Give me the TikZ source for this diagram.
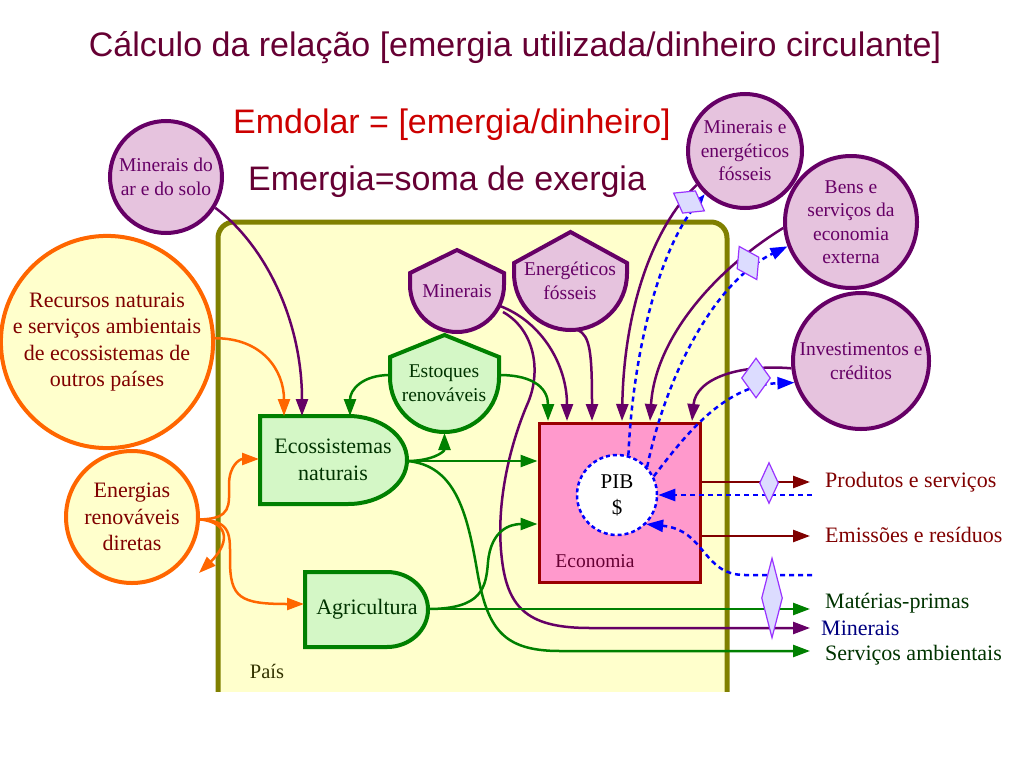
\documentclass[tikz,border=0pt]{standalone}
\usepackage{fontspec}
\setmainfont{Liberation Serif}
\newfontfamily\sansf{Liberation Sans}
\usetikzlibrary{arrows.meta,shapes.geometric}
\definecolor{purp}{HTML}{660066}
\definecolor{maroonc}{HTML}{660033}
\definecolor{redt}{HTML}{CC0000}
\definecolor{pinkfill}{HTML}{E6C3DE}
\definecolor{yel}{HTML}{FFFFCC}
\definecolor{orng}{HTML}{FF6600}
\definecolor{olivb}{HTML}{808000}
\definecolor{grn}{HTML}{008000}
\definecolor{grnfill}{HTML}{D4F7C6}
\definecolor{dgreen}{HTML}{003300}
\definecolor{dred}{HTML}{800000}
\definecolor{ecofill}{HTML}{FF99CC}
\definecolor{ecoline}{HTML}{990000}
\definecolor{blu}{HTML}{0000FF}
\definecolor{vfill}{HTML}{DCDCFF}
\definecolor{vline}{HTML}{9933FF}
\definecolor{navyc}{HTML}{000080}
\definecolor{paist}{HTML}{333300}
\tikzset{
  bigf/.style={font=\fontsize{22}{26.5}\selectfont, align=center},
  smallf/.style={font=\fontsize{19.5}{23.5}\selectfont, align=center},
  headf/.style={font=\sansf\fontsize{34}{40}\selectfont, inner sep=0pt},
  pcirc/.style={circle, draw=purp, line width=4pt, fill=pinkfill, text=purp, inner sep=0pt, smallf},
  ocirc/.style={circle, draw=orng, line width=4pt, fill=yel, text=dred, inner sep=0pt, bigf},
  tankp/.style={draw=purp, fill=pinkfill, line width=4pt, line join=miter},
  tankg/.style={draw=grn, fill=grnfill, line width=4pt, line join=miter},
  tip/.style={-{Triangle[length=17pt,width=12pt]}},
  pline/.style={draw=purp, line width=2.5pt, tip},
  gline/.style={draw=grn, line width=2.5pt, tip},
  oline/.style={draw=orng, line width=2.5pt, tip},
  rline/.style={draw=dred, line width=2.5pt, tip},
  bline/.style={draw=blu, line width=2.5pt, dash pattern=on 5pt off 4pt, -{Triangle[length=17pt,width=12pt]}},
  valve/.style={diamond, draw=vline, fill=vfill, line width=1.2pt, inner sep=0pt},
  outlab/.style={anchor=west, inner sep=0pt, bigf}
}
\begin{document}
\begin{tikzpicture}[x=1pt,y=-1pt]
\useasboundingbox (0,0) rectangle (1024,768);

% headings
\node[headf, text=maroonc] (title) at (515,48) {Cálculo da relação [emergia utilizada/dinheiro circulante]};
\node[headf, text=redt, anchor=west] (emd) at (233,125) {Emdolar = [emergia/dinheiro]};
\node[headf, text=maroonc, anchor=west] (emg) at (248,182) {Emergia=soma de exergia};

% country box
\begin{scope}
\clip (0,0) rectangle (1024,691);
\draw[draw=olivb, line width=5pt, fill=yel, rounded corners=16pt] (218,222) rectangle (727,730);
\end{scope}
\node[font=\fontsize{20.5}{24}\selectfont, text=paist] (pais) at (267,671) {País};

% storage tanks and producers
\draw[tankp] (410,285) -- (410,273) -- (457,250) -- (504,273) -- (504,285) arc[start angle=0,end angle=180,radius=47] -- cycle;
\node[smallf, text=purp] (minh) at (457,291) {Minerais};
\draw[tankp] (514,273.5) -- (514,263) -- (570.5,232) -- (627,263) -- (627,273.5) arc[start angle=0,end angle=180,radius=56.5] -- cycle;
\node[smallf, text=purp] (enf) at (570,281) {Energéticos\\fósseis};
\draw[tankg] (390,377.5) -- (390,357) -- (444.5,335) -- (499,357) -- (499,377.5) arc[start angle=0,end angle=180,radius=54.5] -- cycle;
\node[smallf, text=dgreen] (estq) at (444,383) {Estoques\\renováveis};
\draw[tankg] (348,416) -- (260,416) -- (260,504) -- (348,504) arc[start angle=90,end angle=-90,x radius=59,y radius=44] -- cycle;
\node[bigf, text=dgreen] (ecos) at (333,460) {Ecossistemas\\naturais};
\draw[tankg] (387,572) -- (305,572) -- (305,647) -- (387,647) arc[start angle=90,end angle=-90,x radius=41,y radius=37.5] -- cycle;
\node[bigf, text=dgreen] (agri) at (367,609) {Agricultura};

% economy
\node[draw=ecoline, fill=ecofill, line width=3pt, minimum width=161pt, minimum height=159pt, inner sep=0pt] (eco) at (619.5,502.5) {};
\node[smallf, text=maroonc] (ecolab) at (595,561) {Economia};
\node[circle, draw=blu, line width=2.5pt, dash pattern=on 4pt off 3pt, fill=white, minimum size=80pt, inner sep=0pt, align=center, font=\fontsize{21}{26}\selectfont] (pib) at (617,495) {PIB\\\$};

% sources
\node[pcirc, minimum size=112pt] (mar) at (166,177) {Minerais do\\ar e do solo};
\node[ocirc, minimum size=204pt] (rec) at (107,342) {Recursos naturais\\e serviços ambientais\\de ecossistemas de\\outros países};
\node[ocirc, minimum size=132pt] (ene) at (132,517) {Energias\\renováveis\\diretas};
\node[pcirc, minimum size=114pt] (mef) at (745,151) {Minerais e\\energéticos\\fósseis};
\node[pcirc, minimum size=132pt] (bens) at (851,222) {Bens e\\serviços da\\economia\\externa};
\node[pcirc, minimum size=136pt] (inv) at (861,361) {Investimentos e\\créditos};

% attachment coordinates
\coordinate (ecosR) at (407,461);
\coordinate (agriR) at (428,609);
\coordinate (estqL) at (390,375);
\coordinate (estqR) at (499,375);
\coordinate (estqB) at (444.5,433);
\coordinate (minhA) at (500,306);
\coordinate (minhB) at (503,312);
\coordinate (enfB) at (578,330);
\coordinate (ecosT1) at (284,416);
\coordinate (ecosT2) at (302,416);
\coordinate (ecosT3) at (350,416);
\coordinate (ecosL) at (259,459);
\coordinate (agriL) at (304,604);
\coordinate (outl) at (199,573);
\coordinate (prod) at (810,482);
\coordinate (emis) at (810,536);
\coordinate (matp) at (810,609);
\coordinate (mino) at (810,628);
\coordinate (serv) at (810,651);
\coordinate (inprod) at (812,495);
\coordinate (inres) at (812,575);

% orange flows
\draw[oline] (rec.2) .. controls (262,338) and (284,370) .. (ecosT1);
\draw[oline] (ene.-2) .. controls (232,519) and (229,505) .. (229,485) .. controls (229,465) and (240,459) .. (ecosL);
\draw[oline] (ene.-2) .. controls (232,521) and (230,535) .. (230,560) .. controls (230,598) and (240,604) .. (agriL);
\draw[oline] (ene.-2) .. controls (232,523) and (228,545) .. (outl);

% purple flows
\draw[pline] (mar.-32) .. controls (265,245) and (302,320) .. (ecosT2);
\draw[pline] (minhA) .. controls (542,322) and (567,365) .. (567,421);
\draw[pline] (minhB) .. controls (535,330) and (542,372) .. (527,405) .. controls (510,445) and (495,505) .. (502,560) .. controls (508,610) and (530,628) .. (590,628) -- (mino);
\draw[pline] (enfB) .. controls (590,336) and (592,352) .. (592,421);
\draw[pline] (mef.-145) .. controls (652,228) and (624,310) .. (622,421);
\draw[pline] (bens.-175) .. controls (712,272) and (655,340) .. (650,421);
\draw[pline] (inv.-174) .. controls (740,364) and (696,378) .. (692,421);

% green flows
\draw[gline] (estqL) .. controls (362,375) and (350,390) .. (ecosT3);
\draw[gline] (ecosR) .. controls (432,461) and (444.5,452) .. (estqB);
\draw[gline] (ecosR) -- (eco.west |- ecosR);
\draw[gline] (ecosR) .. controls (455,465) and (467,512) .. (477,570) .. controls (487,628) and (502,651) .. (560,651) -- (serv);
\draw[gline] (agriR) .. controls (482,609) and (486,588) .. (488,562) .. controls (491,530) and (510,524) .. (eco.west |- 0,524);
\draw[gline] (agriR) -- (matp);
\draw[gline] (estqR) .. controls (536,375) and (548,390) .. (548,421);

% outputs
\draw[rline] (eco.east |- prod) -- (prod);
\draw[rline] (eco.east |- emis) -- (emis);

% money flows
\draw[bline] (pib.74) .. controls (633,350) and (660,250) .. (mef.-133);
\draw[bline] (pib.43) .. controls (665,380) and (712,283) .. (bens.-159);
\draw[bline] (pib.27) .. controls (682,440) and (722,385) .. (inv.-162);
\draw[bline] (inprod) -- (pib.east);
\draw[bline] (inres) -- (745,575) .. controls (702,575) and (706,530) .. (pib.-45);

% valves
\node[valve, minimum width=26pt, minimum height=36pt, rotate=60] (v1) at (689,202) {};
\node[valve, minimum width=25pt, minimum height=38pt, rotate=28] (v2) at (748,263) {};
\node[valve, minimum width=29pt, minimum height=40pt] (v3) at (756,378) {};
\node[valve, minimum width=19pt, minimum height=41pt] (v4) at (769,483) {};
\node[valve, minimum width=21pt, minimum height=80pt] (v5) at (772,598) {};

% output labels
\node[outlab, text=dred] (lprod) at (825,482) {Produtos e serviços};
\node[outlab, text=dred] (lemis) at (825,535) {Emissões e resíduos};
\node[outlab, text=dgreen] (lmat) at (825,603) {Matérias-primas};
\node[outlab, text=navyc] (lmin) at (821,628) {Minerais};
\node[outlab, text=dgreen] (lserv) at (825,655) {Serviços ambientais};
\end{tikzpicture}
\end{document}
